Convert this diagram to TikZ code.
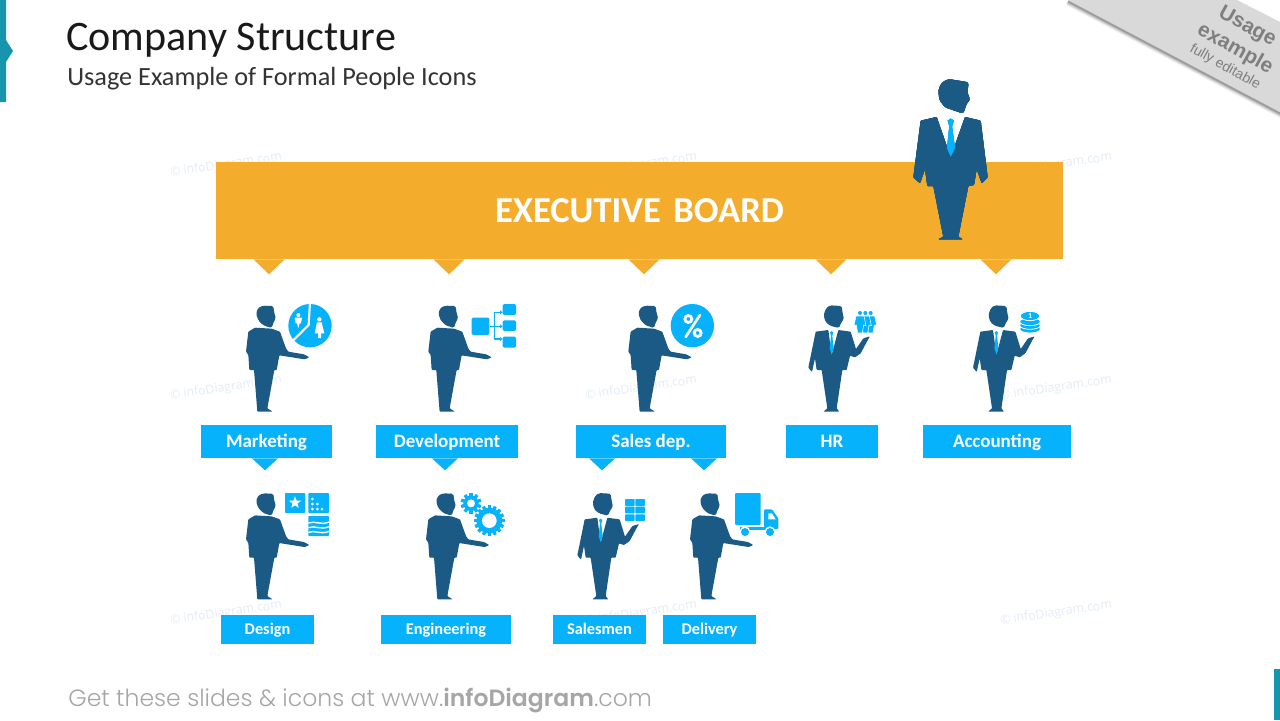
\documentclass[tikz,border=0pt]{standalone}
\usepackage{fontspec}
\setmainfont{Carlito}
\newfontfamily\footfont{Poppins Light}[BoldFont=Poppins SemiBold]
\newfontfamily\markfont{Open Sans}
\newfontfamily\ribbonfont{Liberation Sans}
\usetikzlibrary{calc}
\definecolor{suit}{HTML}{1B5A85}
\definecolor{sky}{HTML}{06B2FB}
\definecolor{amber}{HTML}{F4AC2D}
\definecolor{teal}{HTML}{1695AD}
\definecolor{wmark}{HTML}{E4ECF7}
\definecolor{ribbon}{HTML}{D9D9D9}
\definecolor{ribbontext}{HTML}{7F7F7F}
\definecolor{foot}{HTML}{A6A6A6}

% one unit of the picture is one pixel of a 1280x720 slide, y grows downwards
\tikzset{
  x=0.02cm, y=-0.02cm,
  body/.style={fill=suit, rounded corners=0.4pt},
  icon/.style={fill=sky},
  labelbox/.style={fill=sky, text=white, inner sep=0pt, text height=6.9pt, text depth=0pt, font=\bfseries\fontsize{10.8}{12}\selectfont},
  smallbox/.style={fill=sky, text=white, inner sep=0pt, text height=5.95pt, text depth=0pt, font=\bfseries\fontsize{9.3}{11}\selectfont},
  % standing figure seen from the side, one arm held out
  sideperson/.pic={
    \begin{scope}[scale=1/3]
      \fill[body, rounded corners=0.9pt] (100,32) -- (130,33) -- (133,55) -- (138,70) -- (132,78) -- (125,99)
        -- (100,91) -- (85,76) -- (78,55) -- (85,38) -- cycle;
      \fill[body] (75,98) -- (125,101) -- (150,110) -- (168,160) -- (175,170) -- (222,178) -- (238,187)
        -- (224,193) -- (148,181) -- (140,225) -- (133,225) -- (112,340) -- (128,350) -- (82,350)
        -- (72,225) -- (58,225) -- (55,180) -- (48,170) -- (55,110) -- cycle;
    \end{scope}
  },
  % standing figure seen from the front, one hand raised with a suit and tie
  frontperson/.pic={
    \begin{scope}[scale=1/3]
      \fill[body, rounded corners=0.9pt] (630,31) -- (665,33) -- (668,55) -- (672,72) -- (665,80) -- (657,99)
        -- (630,92) -- (616,80) -- (611,60) -- (618,40) -- cycle;
      \fill[body] (587,110) -- (625,105) -- (635,180) -- (655,105) -- (692,110) -- (708,162) -- (730,130)
        -- (750,124) -- (745,132) -- (722,175) -- (705,187) -- (690,182) -- (680,225) -- (667,225)
        -- (650,340) -- (658,350) -- (610,350) -- (622,340) -- (605,225) -- (590,225) -- (585,190)
        -- (576,231) -- (565,218) -- cycle;
      \fill[sky] (630,112) -- (635,108) -- (640,112) -- (637,122) -- (641,160) -- (635,178) -- (629,160) -- (633,122) -- cycle;
    \end{scope}
  },
  % the tall figure standing in front of the board
  bigperson/.pic={
    \begin{scope}[scale=1/3]
      \fill[body, rounded corners=1.4pt] (205,27) -- (266,37) -- (262,68) -- (271,90) -- (260,100) -- (250,131)
        -- (195,112) -- (178,90) -- (175,60) -- (185,38) -- cycle;
      \fill[body] (122,152) -- (170,141) -- (212,262) -- (255,141) -- (302,152) -- (323,322) -- (305,340)
        -- (290,297) -- (282,345) -- (265,348) -- (235,500) -- (248,508) -- (175,508) -- (190,500)
        -- (160,348) -- (142,348) -- (135,297) -- (120,340) -- (100,322) -- cycle;
      \fill[sky] (203,152) -- (212,146) -- (222,152) -- (216,168) -- (225,235) -- (212,260) -- (201,235) -- (208,168) -- cycle;
    \end{scope}
  },
  pieicon/.pic={
    \begin{scope}[scale=1/3]
      \fill[icon] (240,92) circle (65);
      \draw[white, line width=1.2pt] (240,20) -- (236,90) -- (186,140);
      \fill[white] (205,60) circle (6);
      \fill[white] (194,68) -- (216,68) -- (213,85) -- (209,85) -- (205,99) -- (201,85) -- (197,85) -- cycle;
      \fill[white] (268,73) circle (6.5);
      \fill[white] (261,82) -- (275,82) -- (283,115) -- (273,115) -- (273,129) -- (264,129) -- (264,115) -- (254,115) -- cycle;
    \end{scope}
  },
  treeicon/.pic={
    \begin{scope}[scale=1/3]
      \fill[icon, rounded corners=0.8pt] (725,68) rectangle (778,120);
      \fill[icon, rounded corners=0.8pt] (818,27) rectangle (858,60);
      \fill[icon, rounded corners=0.8pt] (818,76) rectangle (858,108);
      \fill[icon, rounded corners=0.8pt] (818,125) rectangle (858,158);
      \draw[sky, line width=0.95pt] (780,94) -- (812,94) (793,52) -- (793,132) (793,52) -- (812,52) (793,132) -- (812,132);
      \fill[icon] (810,46) -- (818,52) -- (810,58) -- cycle;
      \fill[icon] (810,88) -- (818,94) -- (810,100) -- cycle;
      \fill[icon] (810,126) -- (818,132) -- (810,138) -- cycle;
    \end{scope}
  },
  percenticon/.pic={
    \begin{scope}[scale=1/3]
      \fill[icon] (217,92) circle (65);
      \draw[white, line width=1.5pt, line cap=round] (197,126) -- (240,60);
      \draw[white, line width=1.6pt] (205,72) circle (10.5);
      \draw[white, line width=1.6pt] (233,114) circle (10.5);
    \end{scope}
  },
  % three people standing in a row
  crowdicon/.pic={
    \begin{scope}[scale=1/3]
      \foreach \dx in {32,16,0} {
        \begin{scope}[shift={(\dx,0)}]
          \fill[white] (720,54) circle (7.5);
          \fill[icon] (720,54) circle (6);
          \fill[icon, draw=white, line width=0.3pt] (708,63) -- (732,63) -- (738,92) -- (731,90) -- (727,114) -- (713,114) -- (709,90) -- (702,92) -- cycle;
        \end{scope}
      }
    \end{scope}
  },
  coinicon/.pic={
    \begin{scope}[scale=1/3]
      \foreach \yy in {102,91,80}
        \filldraw[fill=sky, draw=white, line width=0.45pt] (1230,\yy) ellipse (31 and 12);
      \filldraw[fill=sky, draw=white, line width=0.45pt] (1230,63) ellipse (29 and 14);
      \node[text=white, inner sep=0pt, font=\bfseries\fontsize{4.5}{5}\selectfont] (coinface) at (1230,62) {1};
    \end{scope}
  },
  designicon/.pic={
    \begin{scope}[scale=1/3]
      \fill[icon, rounded corners=0.5pt] (165,24) rectangle (226,84);
      \fill[icon, rounded corners=0.5pt] (235,24) rectangle (297,84);
      \fill[icon, rounded corners=0.5pt] (235,93) rectangle (297,153);
      \fill[white, shift={(195,53)}] (-90:19) -- (-54:8) -- (-18:19) -- (18:8) -- (54:19) -- (90:8) -- (126:19) -- (162:8) -- (198:19) -- (234:8) -- cycle;
      \foreach \dotx/\doty in {247/42,247/57,247/72,262/57,262/72,276/72}
        \fill[white] (\dotx,\doty) circle (4.5);
      \foreach \yy in {114,128,142}
        \draw[white, line width=0.8pt] (235,\yy) .. controls (255,\yy-8) and (272,\yy+8) .. (297,\yy-3);
    \end{scope}
  },
  gearicon/.pic={
    \begin{scope}[scale=1/3]
      \foreach \a in {0,36,...,144}
        \fill[icon, rotate around={\a:(723,55)}] (718,24) rectangle (728,86);
      \fill[icon] (723,55) circle (23);
      \fill[white] (723,55) circle (12);
      \foreach \a in {0,22.5,...,157.5}
        \fill[icon, rotate around={\a:(778,107)}] (773,61) rectangle (783,153);
      \fill[icon] (778,107) circle (39);
      \fill[white] (778,107) circle (22);
    \end{scope}
  },
  gridicon/.pic={
    \begin{scope}[scale=1/3]
      \foreach \xa/\xb in {195/224,226/255}
        \foreach \ya/\yb in {42/63,65/85,88/108}
          \fill[icon, rounded corners=0.5pt] (\xa,\ya) rectangle (\xb,\yb);
    \end{scope}
  },
  truckicon/.pic={
    \begin{scope}[scale=1/3]
      \fill[icon, rounded corners=0.6pt] (525,24) rectangle (602,120);
      \fill[icon, rounded corners=0.6pt] (612,73) -- (636,73) -- (655,100) -- (655,132) -- (612,132) -- cycle;
      \fill[icon] (540,126) rectangle (625,136);
      \fill[white] (625,85) -- (636,85) -- (647,103) -- (625,103) -- cycle;
      \fill[white] (555,140) circle (16);
      \fill[white] (630,140) circle (16);
      \fill[icon] (555,141) circle (12);
      \fill[icon] (630,141) circle (12);
    \end{scope}
  },
}
% small pointer under a box: colour, node, x offset, half width, height
\newcommand{\pointer}[5]{\fill[#1] ($(#2.south)+(#3-#4,0)$) -- ($(#2.south)+(#3+#4,0)$) -- ($(#2.south)+(#3,#5)$) -- cycle;}

\begin{document}
\begin{tikzpicture}
\useasboundingbox (0,0) rectangle (1280,720);
\clip (0,0) rectangle (1280,720);
\fill[white] (0,0) rectangle (1280,720);

% faint copyright marks across the slide
\foreach \mx in {226,641,1056}
  \foreach \my in {165,388,613}
    \node[text=wmark, rotate=8, inner sep=0pt, font=\markfont\fontsize{7}{8}\selectfont] at (\mx,\my) {© infoDiagram.com};

% slide furniture: side accent, corner accent
\fill[teal] (0,0) -- (6,0) -- (6,40) -- (13,51) -- (6,62) -- (6,102) -- (0,102) -- cycle;
\fill[teal] (1274,669) rectangle (1280,720);

% title block
\node[anchor=base west, inner sep=0pt, text=black!90, font=\fontsize{23.95}{28}\selectfont] (title) at (66,50) {Company Structure};
\node[anchor=base west, inner sep=0pt, text=black!80, font=\fontsize{14.95}{17}\selectfont] (subtitle) at (67,85) {Usage Example of Formal People Icons};

% corner ribbon with its soft shadow
\foreach \w/\op in {4.5/0.07,3.2/0.09,2/0.12,1/0.16}
  \draw[black, opacity=\op, line width=\w pt] (1068,1.5) -- (1282,114.5);
\fill[ribbon] (1066,-1) -- (1235,-1) -- (1282,23) -- (1282,113) -- cycle;
\node[rotate=-29, text=ribbontext, inner sep=0pt, font=\ribbonfont\bfseries\fontsize{11.8}{14}\selectfont] (usage) at (1247,27) {Usage};
\node[rotate=-29, text=ribbontext, inner sep=0pt, font=\ribbonfont\bfseries\fontsize{11.8}{14}\selectfont] (example) at (1235,49) {example};
\node[rotate=-29, text=ribbontext, inner sep=0pt, font=\ribbonfont\fontsize{8}{10}\selectfont] (editable) at (1225,67) {fully editable};

% executive board banner with its five pointers
\node[fill=amber, text=white, inner sep=0pt, minimum width=16.94cm, minimum height=1.94cm,
  text height=13.3pt, text depth=0pt,
  font=\bfseries\fontsize{20.8}{24}\selectfont] (board) at (639.5,210.5) {EXECUTIVE\hspace{0.12em} BOARD};
\foreach \dx in {-370.5,-190.5,4.5,191.5,356.5}
  \pointer{amber}{board}{\dx}{15.5}{15}
\pic at (880,70) {bigperson};

% first row of departments
\node[labelbox, minimum width=2.62cm, minimum height=0.66cm] (marketing) at (266.5,441.5) {Marketing};
\node[labelbox, minimum width=2.84cm, minimum height=0.66cm] (development) at (447,441.5) {Development};
\node[labelbox, minimum width=3cm, minimum height=0.66cm] (sales) at (651,441.5) {Sales dep.};
\node[labelbox, minimum width=1.84cm, minimum height=0.66cm] (hr) at (832,441.5) {HR};
\node[labelbox, minimum width=2.96cm, minimum height=0.66cm] (accounting) at (997,441.5) {Accounting};
\pointer{sky}{marketing}{-1.5}{13}{12}
\pointer{sky}{development}{-2}{13}{12}
\pointer{sky}{sales}{-49}{13}{12}
\pointer{sky}{sales}{53}{13}{12}

% second row of departments
\node[smallbox, minimum width=1.86cm, minimum height=0.58cm] (design) at (267.5,629.5) {Design};
\node[smallbox, minimum width=2.6cm, minimum height=0.58cm] (engineering) at (446,629.5) {Engineering};
\node[smallbox, minimum width=1.86cm, minimum height=0.58cm] (salesmen) at (599.5,629.5) {Salesmen};
\node[smallbox, minimum width=1.86cm, minimum height=0.58cm] (delivery) at (709.5,629.5) {Delivery};

% figures and their icons
\pic at (230,295) {sideperson};
\pic at (230,295) {pieicon};
\pic at (412.3,295) {sideperson};
\pic at (230,295) {treeicon};
\pic at (612.3,295) {sideperson};
\pic at (620,295) {percenticon};
\pic at (620,295) {frontperson};
\pic at (620,295) {crowdicon};
\pic at (784.7,295) {frontperson};
\pic at (620,295) {coinicon};
\pic at (230,482.7) {sideperson};
\pic at (230,485) {designicon};
\pic at (410,482.7) {sideperson};
\pic at (230,485) {gearicon};
\pic at (389,482.7) {frontperson};
\pic at (560,485) {gridicon};
\pic at (674,482.7) {sideperson};
\pic at (560,485) {truckicon};

% footer line
\node[anchor=base west, inner sep=0pt, text=foot, font=\footfont\fontsize{13.4}{15}\selectfont] (footer) at (68,706)
  {Get these slides \& icons at www.\textbf{infoDiagram}.com};
\end{tikzpicture}
\end{document}
